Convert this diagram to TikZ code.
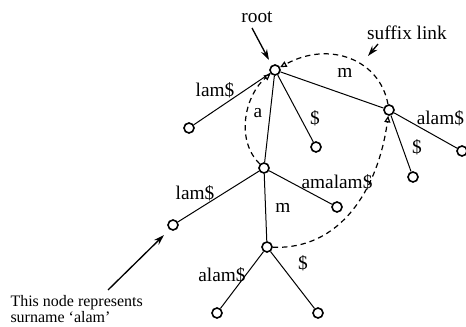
\documentclass[tikz,border=0pt]{standalone}
\usepackage{fontspec}
\setmainfont{Liberation Serif}
\usetikzlibrary{arrows.meta}

\tikzset{every picture/.style={line width=0.75pt}}
\tikzset{
  vtx/.style={circle,draw,line width=1.2pt,inner sep=0pt,minimum size=7.5pt},
  lbl/.style={inner sep=0.75pt,font=\fontsize{14.5}{16}\selectfont},
  slink/.style={dashed,line width=0.9pt,dash pattern=on 4pt off 3pt,-{Triangle[open,length=5pt,width=4.5pt]}},
  pointer/.style={line width=1pt,-{Stealth[length=8pt,width=5pt]}}
}

\begin{document}
\begin{tikzpicture}[x=0.75pt,y=0.75pt,yscale=-1,xscale=1]
\useasboundingbox (0,0) rectangle (466,327);

%Shape: Circle (tree nodes)
\node [vtx] (root) at (275,70) {};
\node [vtx] (l1) at (189,128) {};
\node [vtx] (nA) at (264,168) {};
\node [vtx] (l2) at (316,147) {};
\node [vtx] (nM) at (389,110) {};
\node [vtx] (l3) at (462,151) {};
\node [vtx] (l4) at (413,177) {};
\node [vtx] (l5) at (173,225) {};
\node [vtx] (l6) at (337,207) {};
\node [vtx] (nAM) at (267,247) {};
\node [vtx] (l7) at (217,313) {};
\node [vtx] (l8) at (318,313) {};

%Tree edges
\draw (root) -- (l1) (root) -- (nA) (root) -- (l2) (root) -- (nM) ;
\draw (nM) -- (l3) (nM) -- (l4) ;
\draw (nA) -- (l5) (nA) -- (l6) (nA) -- (nAM) ;
\draw (nAM) -- (l7) (nAM) -- (l8) ;

%Suffix links
\draw [slink] (nM) .. controls (380,60) and (330,40) .. (root) ;
\draw [slink] (nA) .. controls (235,140) and (245,95) .. (root) ;
\draw [slink] (nAM) .. controls (340,250) and (378,190) .. (nM) ;

% Text Node
\node [lbl] (troot) at (257,17) {root};
\coordinate (proot) at (269,60);
\draw [pointer] (252,28) -- (proot) ;
% Text Node
\node [lbl] (tlink) at (407,33) {suffix link};
\coordinate (plink) at (368,56);
\draw [pointer] (378,44) -- (plink) ;

% Text Node
\node [lbl] at (215,90) {lam\$};
\node [lbl] at (258,113) {a};
\node [lbl] at (315,118) {\$};
\node [lbl] at (345,73) {m};
\node [lbl,anchor=east] at (465.5,118) {alam\$};
\node [lbl] at (417,147) {\$};
\node [lbl] at (195,193) {lam\$};
\node [lbl] at (337,182) {amalam\$};
\node [lbl] at (283,208) {m};
\node [lbl] at (222,275) {alam\$};
\node [lbl] at (303,263) {\$};

% Text Node
\node [anchor=north west,inner sep=0pt,align=left,font=\fontsize{12}{12}\selectfont] (tnote) at (10,295) {This node represents\\surname `alam'};
\coordinate (pnote) at (164,235);
\draw [pointer] (108,290) -- (pnote) ;

\end{tikzpicture}
\end{document}
